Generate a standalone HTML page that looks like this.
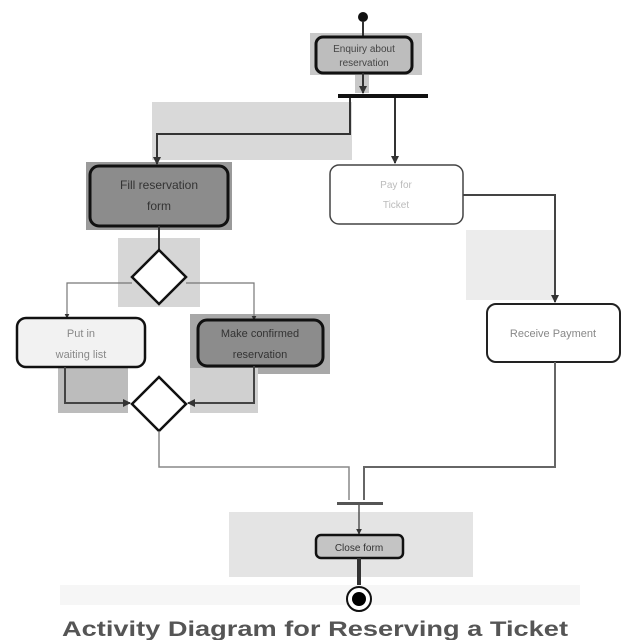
<!DOCTYPE html>
<html><head><style>
html,body{margin:0;padding:0;background:#fff;}
svg{display:block;}
text{font-family:"Liberation Sans",sans-serif;}
</style></head><body>
<svg width="640" height="640" viewBox="0 0 640 640" xmlns="http://www.w3.org/2000/svg">
<defs>
<marker id="a" markerWidth="4" markerHeight="4" refX="3.5" refY="2" orient="auto"><path d="M0,0 L4,2 L0,4 z" fill="#333"/></marker>
</defs>
<rect x="310" y="33" width="112" height="42" fill="#c8c8c8"/>
<rect x="355" y="75" width="14" height="18" fill="#c8c8c8"/>
<rect x="152" y="102" width="200" height="58" fill="#d9d9d9"/>
<rect x="86" y="162" width="146" height="68" fill="#9a9a9a"/>
<rect x="118" y="238" width="82" height="69" fill="#d6d6d6"/>
<rect x="466" y="230" width="89" height="70" fill="#ececec"/>
<rect x="190" y="314" width="140" height="60" fill="#a8a8a8"/>
<rect x="58" y="368" width="70" height="45" fill="#bcbcbc"/>
<rect x="190" y="368" width="68" height="45" fill="#d0d0d0"/>
<rect x="229" y="512" width="244" height="65" fill="#e4e4e4"/>
<rect x="60" y="585" width="520" height="20" fill="#f6f6f6"/>

<circle cx="363" cy="17" r="5" fill="#111"/>
<line x1="363" y1="22" x2="363" y2="37" stroke="#333" stroke-width="2"/>
<rect x="316" y="37" width="96" height="36" rx="7" fill="#bdbdbd" stroke="#111" stroke-width="3"/>
<text x="364" y="52" font-size="10" text-anchor="middle" fill="#444">Enquiry about</text>
<text x="364" y="66" font-size="10" text-anchor="middle" fill="#444">reservation</text>
<line x1="363" y1="73" x2="363" y2="93" stroke="#333" stroke-width="2" marker-end="url(#a)"/>
<rect x="338" y="94" width="90" height="4" fill="#111"/>

<polyline points="350,98 350,134 157,134 157,164" fill="none" stroke="#333" stroke-width="2" marker-end="url(#a)"/>
<line x1="395" y1="98" x2="395" y2="163" stroke="#333" stroke-width="2" marker-end="url(#a)"/>

<rect x="90" y="166" width="138" height="60" rx="9" fill="#8c8c8c" stroke="#111" stroke-width="3"/>
<text x="159" y="189" font-size="12" text-anchor="middle" fill="#333">Fill reservation</text>
<text x="159" y="210" font-size="12" text-anchor="middle" fill="#333">form</text>
<line x1="159" y1="226" x2="159" y2="250" stroke="#333" stroke-width="2"/>

<rect x="330" y="165" width="133" height="59" rx="9" fill="#fff" stroke="#444" stroke-width="1.5"/>
<text x="396" y="188" font-size="10" text-anchor="middle" fill="#bbb">Pay for</text>
<text x="396" y="208" font-size="10" text-anchor="middle" fill="#bbb">Ticket</text>
<polyline points="463,195 555,195 555,302" fill="none" stroke="#444" stroke-width="2" marker-end="url(#a)"/>

<rect x="487" y="304" width="133" height="58" rx="9" fill="#fff" stroke="#222" stroke-width="2"/>
<text x="553" y="337" font-size="11" text-anchor="middle" fill="#888">Receive Payment</text>

<polygon points="159,250 186,277 159,304 132,277" fill="#fff" stroke="#111" stroke-width="2.5"/>
<polyline points="132,283 67,283 67,318" fill="none" stroke="#777" stroke-width="1.2" marker-end="url(#a)"/>
<polyline points="186,283 254,283 254,320" fill="none" stroke="#777" stroke-width="1.2" marker-end="url(#a)"/>

<rect x="17" y="318" width="128" height="49" rx="9" fill="#f2f2f2" stroke="#111" stroke-width="2.5"/>
<text x="81" y="337" font-size="11" text-anchor="middle" fill="#888">Put in</text>
<text x="81" y="358" font-size="11" text-anchor="middle" fill="#888">waiting list</text>

<rect x="198" y="320" width="125" height="46" rx="9" fill="#8c8c8c" stroke="#111" stroke-width="3"/>
<text x="260" y="337" font-size="11" text-anchor="middle" fill="#333">Make confirmed</text>
<text x="260" y="358" font-size="11" text-anchor="middle" fill="#333">reservation</text>

<polyline points="65,367 65,403 130,403" fill="none" stroke="#444" stroke-width="2" marker-end="url(#a)"/>
<polyline points="254,366 254,403 188,403" fill="none" stroke="#444" stroke-width="2" marker-end="url(#a)"/>
<polygon points="159,377 186,404 159,431 132,404" fill="#fff" stroke="#111" stroke-width="2.5"/>

<polyline points="159,431 159,467 349,467 349,500" fill="none" stroke="#888" stroke-width="1.5"/>
<polyline points="555,362 555,467 364,467 364,500" fill="none" stroke="#666" stroke-width="2"/>
<rect x="337" y="502" width="46" height="3" fill="#555"/>
<line x1="359" y1="505" x2="359" y2="534" stroke="#555" stroke-width="1.5" marker-end="url(#a)"/>

<rect x="316" y="535" width="87" height="23" rx="5" fill="#c4c4c4" stroke="#111" stroke-width="2.5"/>
<text x="359" y="551" font-size="10" text-anchor="middle" fill="#333">Close form</text>
<line x1="359" y1="558" x2="359" y2="585" stroke="#333" stroke-width="4"/>

<circle cx="359" cy="599" r="12" fill="#fff" stroke="#111" stroke-width="2"/>
<circle cx="359" cy="599" r="7" fill="#000"/>

<text x="315" y="636" font-size="21" font-weight="bold" text-anchor="middle" fill="#555" textLength="506" lengthAdjust="spacingAndGlyphs">Activity Diagram for Reserving a Ticket</text>
</svg>
</body></html>
